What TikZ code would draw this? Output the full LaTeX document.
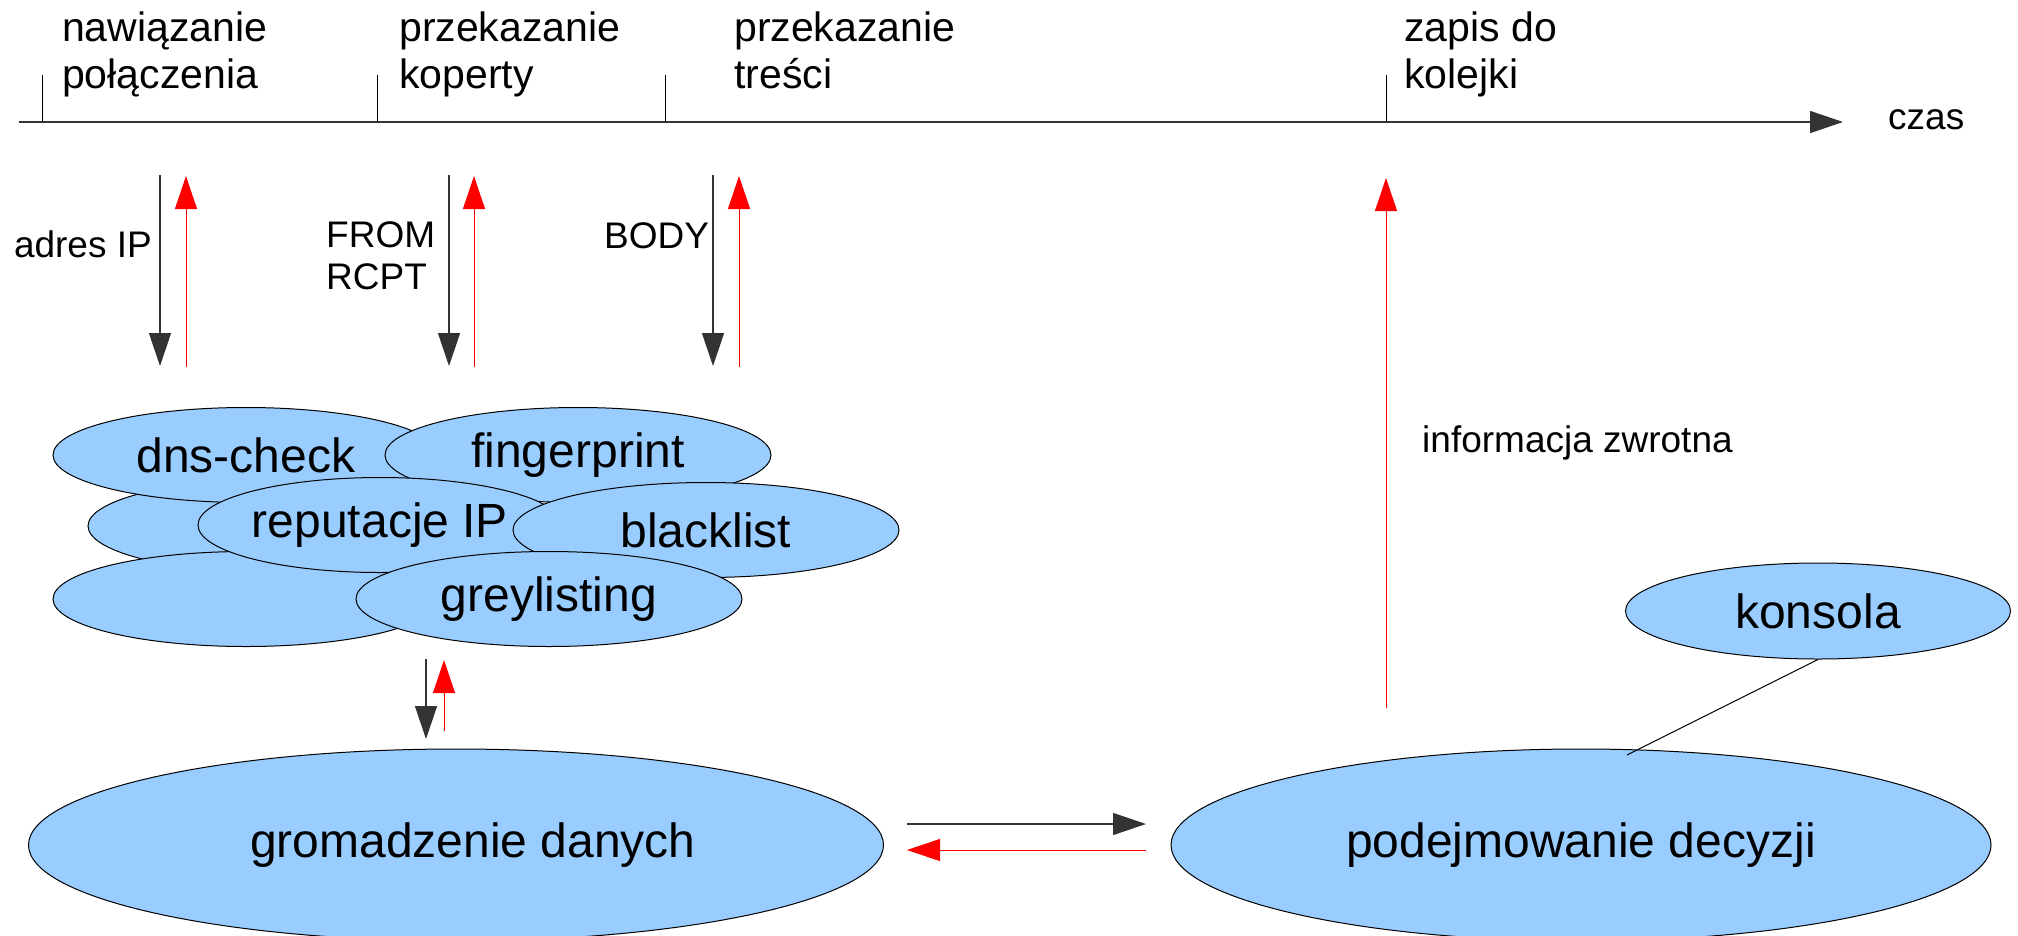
\documentclass[tikz,border=0pt]{standalone}
\usepackage{fontspec}
\setmainfont{Liberation Sans}
\usetikzlibrary{arrows.meta,shapes.geometric}
\definecolor{ellfill}{HTML}{99CCFF}
\definecolor{redarr}{HTML}{FF0000}
\definecolor{linegray}{HTML}{333333}
\begin{document}
\begin{tikzpicture}[x=1pt,y=-1pt,
  blob/.style={ellipse,draw=black,line width=1pt,fill=ellfill,inner sep=0pt,
    minimum width=386pt,minimum height=95pt,font=\fontsize{48}{55}\selectfont},
  bigblob/.style={ellipse,draw=black,line width=1pt,fill=ellfill,inner sep=0pt,
    minimum height=192pt,font=\fontsize{48}{55}\selectfont},
  phase/.style={anchor=north west,inner sep=0pt,align=left,font=\fontsize{41}{47}\selectfont},
  small/.style={inner sep=0pt,font=\fontsize{37}{42}\selectfont},
  tip/.style={-{Triangle[length=33pt,width=22pt]}},
  blk/.style={tip,draw=linegray,line width=1.3pt},
  rd/.style={tip,draw=redarr,line width=1pt,fill=redarr},
  tick/.style={draw=black,line width=1pt}
]
\useasboundingbox (0,0) rectangle (2018,935);

% timeline
\coordinate (tl0) at (19,122);
\coordinate (tl1) at (1843,122);
\draw[tip,draw=linegray,line width=1.5pt] (tl0) -- (tl1);
\node[small,anchor=base west] (czas) at (1888,129) {czas};

% ticks
\coordinate (t1a) at (42,75);  \coordinate (t1b) at (42,122);
\coordinate (t2a) at (377,75); \coordinate (t2b) at (377,122);
\coordinate (t3a) at (665,75); \coordinate (t3b) at (665,122);
\coordinate (t4a) at (1386,75);\coordinate (t4b) at (1386,122);
\draw[tick] (t1a) -- (t1b);
\draw[tick] (t2a) -- (t2b);
\draw[tick] (t3a) -- (t3b);
\draw[tick] (t4a) -- (t4b);

% phase labels
\node[phase] (p1) at (62,12) {nawiązanie\\połączenia};
\node[phase] (p2) at (399,12) {przekazanie\\koperty};
\node[phase] (p3) at (734,12) {przekazanie\\treści};
\node[phase] (p4) at (1404,12) {zapis do\\kolejki};

% vertical arrow pairs
\coordinate (a1t) at (160,175); \coordinate (a1b) at (160,366);
\coordinate (r1b) at (186,367); \coordinate (r1t) at (186,176);
\coordinate (a2t) at (449,175); \coordinate (a2b) at (449,366);
\coordinate (r2b) at (474,367); \coordinate (r2t) at (474,176);
\coordinate (a3t) at (713,175); \coordinate (a3b) at (713,366);
\coordinate (r3b) at (739,367); \coordinate (r3t) at (739,176);
\draw[blk] (a1t) -- (a1b);
\draw[rd] (r1b) -- (r1t);
\draw[blk] (a2t) -- (a2b);
\draw[rd] (r2b) -- (r2t);
\draw[blk] (a3t) -- (a3b);
\draw[rd] (r3b) -- (r3t);

\node[small,anchor=base east] (adres) at (152,257) {adres IP};
\node[small,anchor=north west,align=left] (fromrcpt) at (326,221) {FROM\\RCPT};
\node[small,anchor=base west] (body) at (604,248) {BODY};

% cluster of filters
\node[blob] (midleft) at (281,526) {};
\node[blob] (dns) at (246,455) {dns-check};
\node[blob] (finger) at (578,455) {fingerprint};
\node[blob] (botleft) at (246,599) {};
\node[blob,minimum width=364pt] (rep) at (380,525) {reputacje IP};
\node[blob] (black) at (706,530) {blacklist};
\node[blob] (grey) at (549,599) {greylisting};

% arrows between cluster and data collection
\coordinate (a4t) at (426,659); \coordinate (a4b) at (426,739);
\coordinate (r4b) at (444,731); \coordinate (r4t) at (444,660);
\draw[blk] (a4t) -- (a4b);
\draw[rd] (r4b) -- (r4t);

% big ellipses
\node[bigblob,minimum width=855pt] (grom) at (456,845) {\hspace*{34pt}gromadzenie danych};
\node[bigblob,minimum width=820pt] (decyz) at (1581,845) {podejmowanie decyzji};

% horizontal arrows
\coordinate (h1a) at (907,824); \coordinate (h1b) at (1146,824);
\coordinate (h2a) at (1146,850); \coordinate (h2b) at (907,850);
\draw[blk] (h1a) -- (h1b);
\draw[rd] (h2a) -- (h2b);

% feedback arrow
\coordinate (fbb) at (1386,708); \coordinate (fbt) at (1386,178);
\draw[rd] (fbb) -- (fbt);
\node[small,anchor=base west] (info) at (1422,452) {informacja zwrotna};

% konsola
\node[blob,minimum width=385pt,minimum height=96pt] (kons) at (1818,611) {konsola};
\coordinate (kend) at (1627,755);
\draw[black,line width=1pt] (kons.south) -- (kend);
\end{tikzpicture}
\end{document}
